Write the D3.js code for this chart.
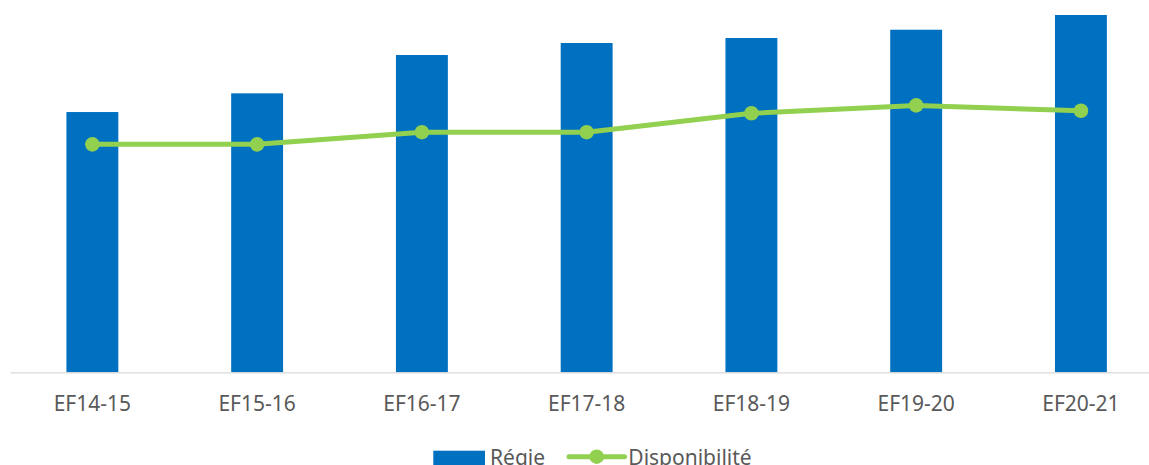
<!DOCTYPE html>
<html>
<head>
<meta charset="utf-8">
<script src="https://cdn.jsdelivr.net/npm/d3@7"></script>
<style>
  html, body { margin: 0; padding: 0; background: #fff; }
  svg { display: block; }
  text { font-family: "Noto Sans", "Open Sans", sans-serif; }
</style>
</head>
<body>
<svg id="chart" width="1149" height="465"></svg>
<script>
const categories = ["EF14-15", "EF15-16", "EF16-17", "EF17-18", "EF18-19", "EF19-20", "EF20-21"];
const regieValues = [182.1, 195.2, 222.0, 230.4, 233.9, 239.7, 250.0];
const disponibiliteValues = [63.8, 63.8, 67.2, 67.2, 72.5, 74.7, 73.2];
const seriesNames = ["Régie", "Disponibilité"];

const W = 1149, H = 465;
const baseY = 372.3, topY = 15;
const svg = d3.select("#chart");

const x = d3.scaleBand().domain(categories).range([10, 1163.3]).paddingInner(0).paddingOuter(0);
const yBar = d3.scaleLinear().domain([0, 250]).range([baseY, topY]);
const yLine = d3.scaleLinear().domain([0, 100]).range([baseY, topY]);

const blue = "#0070C0", green = "#92D050", textCol = "#595959";
const barW = x.bandwidth() * 0.315;
const cx = c => x(c) + x.bandwidth() / 2;

// bars
svg.append("g").selectAll("rect").data(categories).join("rect")
  .attr("x", c => cx(c) - barW / 2)
  .attr("y", (c, i) => yBar(regieValues[i]))
  .attr("width", barW)
  .attr("height", (c, i) => baseY - yBar(regieValues[i]))
  .attr("fill", blue);

// axis
const axis = svg.append("g").attr("transform", `translate(0,${baseY})`)
  .call(d3.axisBottom(x).tickSize(0).tickSizeOuter(0));
axis.select(".domain").attr("stroke", "#d9d9d9").attr("stroke-width", 1.3);
axis.selectAll("text")
  .attr("y", 38.7).attr("dy", 0)
  .attr("fill", textCol)
  .style("font-size", "21px")
  .style("font-family", '"Noto Sans", sans-serif');

// line
const line = d3.line().x(d => cx(d.c)).y(d => yLine(d.v)).curve(d3.curveLinear);
const pts = categories.map((c, i) => ({ c, v: disponibiliteValues[i] }));
svg.append("path").datum(pts)
  .attr("d", line)
  .attr("fill", "none")
  .attr("stroke", green)
  .attr("stroke-width", 5)
  .attr("stroke-linejoin", "round")
  .attr("stroke-linecap", "round");
svg.append("g").selectAll("circle").data(pts).join("circle")
  .attr("cx", d => cx(d.c))
  .attr("cy", d => yLine(d.v))
  .attr("r", 7.3)
  .attr("fill", green);

// legend
const lg = svg.append("g");
lg.append("rect").attr("x", 433.3).attr("y", 450.7).attr("width", 51.7).attr("height", 16).attr("fill", blue);
lg.append("text").attr("x", 490).attr("y", 464.5).attr("fill", textCol)
  .style("font-size", "21px").text(seriesNames[0]);
lg.append("line").attr("x1", 569).attr("x2", 624.5).attr("y1", 456.7).attr("y2", 456.7)
  .attr("stroke", green).attr("stroke-width", 5).attr("stroke-linecap", "round");
lg.append("circle").attr("cx", 596.7).attr("cy", 456.7).attr("r", 7.3).attr("fill", green);
lg.append("text").attr("x", 628.3).attr("y", 464.5).attr("fill", textCol)
  .style("font-size", "21px").text(seriesNames[1]);
</script>
</body>
</html>
